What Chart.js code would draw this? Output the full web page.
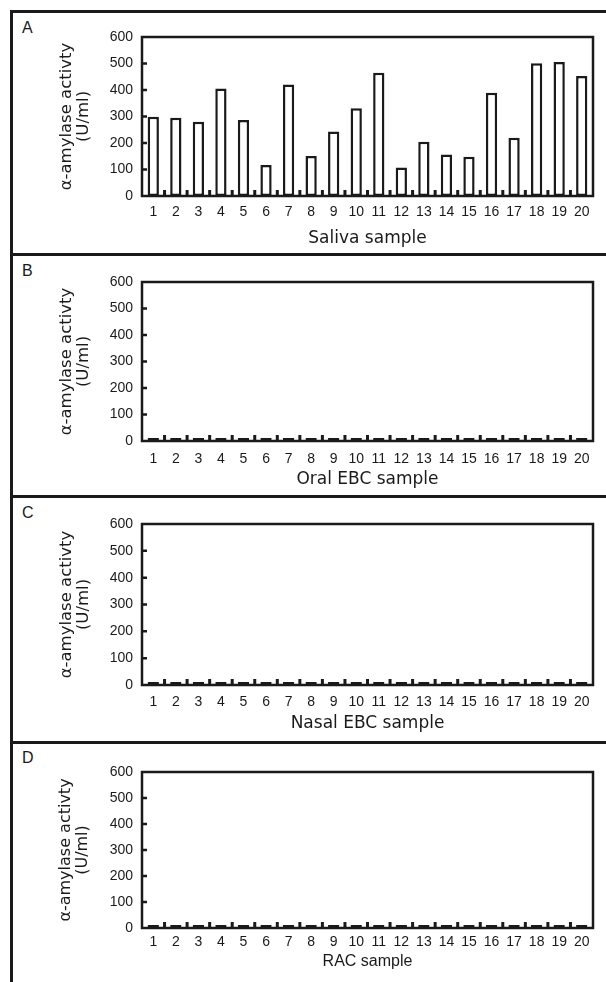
<!DOCTYPE html>
<html>
<head>
<meta charset="utf-8">
<script src="https://cdn.jsdelivr.net/npm/chart.js@4"></script>
<style>
  html, body { margin: 0; padding: 0; background: #fff; }
  body { width: 606px; height: 982px; position: relative; overflow: hidden; }
  .hline { position: absolute; left: 10px; right: 0; height: 3px; background: #1a1a1a; }
  .vline { position: absolute; left: 10px; top: 10px; width: 3px; bottom: 0; background: #1a1a1a; }
  .letter { position: absolute; left: 22px; font: 16px "Liberation Sans", Arial, sans-serif; line-height: 16px; color: #1a1a1a; }
  .panel { position: absolute; left: 13px; width: 593px; }
</style>
</head>
<body>
<div class="hline" style="top:10px"></div>
<div class="hline" style="top:253px"></div>
<div class="hline" style="top:495px"></div>
<div class="hline" style="top:741px"></div>
<div class="vline"></div>

<div class="letter" style="top:20px">A</div>
<div class="letter" style="top:263px">B</div>
<div class="letter" style="top:505px">C</div>
<div class="letter" style="top:750px">D</div>

<div class="panel" style="top:13px;height:240px"><canvas id="chartA"></canvas></div>
<div class="panel" style="top:256px;height:239px"><canvas id="chartB"></canvas></div>
<div class="panel" style="top:498px;height:243px"><canvas id="chartC"></canvas></div>
<div class="panel" style="top:744px;height:238px"><canvas id="chartD"></canvas></div>

<script>
// data
const samples = ["1","2","3","4","5","6","7","8","9","10","11","12","13","14","15","16","17","18","19","20"];
const salivaValues = [299, 295, 280, 406, 287, 117, 421, 151, 243, 331, 465, 108, 205, 157, 148, 390, 220, 501, 506, 453];
const oralEbcValues = [0,0,0,0,0,0,0,0,0,0,0,0,0,0,0,0,0,0,0,0];
const nasalEbcValues = [0,0,0,0,0,0,0,0,0,0,0,0,0,0,0,0,0,0,0,0];
const racValues = [0,0,0,0,0,0,0,0,0,0,0,0,0,0,0,0,0,0,0,0];
const yTicks = [0, 100, 200, 300, 400, 500, 600];
const yTitle = ["\u03b1-amylase activty", "(U/ml)"];

const INK = "#1a1a1a";
Chart.defaults.font.family = '"Liberation Sans", Arial, sans-serif';
Chart.defaults.color = INK;

// frame around plot area + short inward tick marks
const frameTicks = {
    id: "frameTicks",
    afterDraw(chart) {
        const ctx = chart.ctx;
        const a = chart.chartArea;
        const x = chart.scales.x, y = chart.scales.y;
        ctx.save();
        ctx.strokeStyle = INK;
        ctx.lineWidth = 2.5;
        ctx.strokeRect(a.left, a.top, a.right - a.left, a.bottom - a.top);
        ctx.beginPath();
        yTicks.slice(1, -1).forEach(v => {
            const py = y.getPixelForValue(v);
            ctx.moveTo(a.left, py);
            ctx.lineTo(a.left + 5, py);
        });
        ctx.stroke();
        ctx.lineWidth = 3;
        ctx.beginPath();
        for (let i = 1; i < samples.length; i++) {
            const px = (x.getPixelForTick(i - 1) + x.getPixelForTick(i)) / 2;
            ctx.moveTo(px, a.bottom);
            ctx.lineTo(px, a.bottom - 6);
        }
        ctx.stroke();
        ctx.restore();
    }
};

function makePanel(id, values, xTitle, g) {
    // g: canvas top/bottom, area top/bottom (page y), tick/title centres, fonts
    const ctx = document.getElementById(id);
    new Chart(ctx, {
        type: "bar",
        data: {
            labels: samples,
            datasets: [{
                data: values,
                backgroundColor: "#ffffff",
                borderColor: INK,
                borderWidth: 2.5,
                borderSkipped: false,
                minBarLength: 3,
                barPercentage: 0.5,
                categoryPercentage: 1.0
            }]
        },
        options: {
            responsive: true,
            maintainAspectRatio: false,
            animation: false,
            layout: { padding: { left: 45, right: 13, top: g.areaTop - g.top, bottom: 0 } },
            plugins: { legend: { display: false }, tooltip: { enabled: false } },
            scales: {
                x: {
                    grid: { display: false, drawTicks: false },
                    border: { display: false },
                    ticks: { padding: g.tickC - g.areaBottom - 8.4, font: { size: 14 }, maxRotation: 0, autoSkip: false },
                    title: {
                        display: true,
                        text: xTitle,
                        font: { family: g.titleFont, size: g.xTitleSize },
                        padding: { top: 0, bottom: g.bottom - g.titleC - g.xTitleSize * 0.6 }
                    },
                    afterFit(s) { s.height = g.bottom - g.areaBottom; }
                },
                y: {
                    min: 0,
                    max: 600,
                    grid: { display: false, drawTicks: false },
                    border: { display: false },
                    afterBuildTicks(s) { s.ticks = yTicks.map(v => ({ value: v })); },
                    ticks: { padding: 9, font: { size: 14 } },
                    title: {
                        display: true,
                        text: yTitle,
                        font: { family: '"DejaVu Sans", sans-serif', size: g.yTitleSize, lineHeight: 1.04 },
                        padding: { top: 0, bottom: 0 }
                    },
                    afterFit(s) { s.width = 142 - 13 - 45; }
                }
            }
        },
        plugins: [frameTicks]
    });
}

makePanel("chartA", salivaValues, "Saliva sample",
    { top: 13, bottom: 253, areaTop: 37, areaBottom: 196, tickC: 212, titleC: 239, titleFont: '"DejaVu Sans", sans-serif', xTitleSize: 17, yTitleSize: 16.5 });
makePanel("chartB", oralEbcValues, "Oral EBC sample",
    { top: 256, bottom: 495, areaTop: 282, areaBottom: 441, tickC: 459, titleC: 480, titleFont: '"DejaVu Sans", sans-serif', xTitleSize: 17, yTitleSize: 16.5 });
makePanel("chartC", nasalEbcValues, "Nasal EBC sample",
    { top: 498, bottom: 741, areaTop: 524, areaBottom: 685, tickC: 702, titleC: 724, titleFont: '"DejaVu Sans", sans-serif', xTitleSize: 17, yTitleSize: 16.5 });
makePanel("chartD", racValues, "RAC sample",
    { top: 744, bottom: 982, areaTop: 772, areaBottom: 928, tickC: 942, titleC: 962, titleFont: '"Liberation Sans", Arial, sans-serif', xTitleSize: 16, yTitleSize: 16 });
</script>
</body>
</html>
